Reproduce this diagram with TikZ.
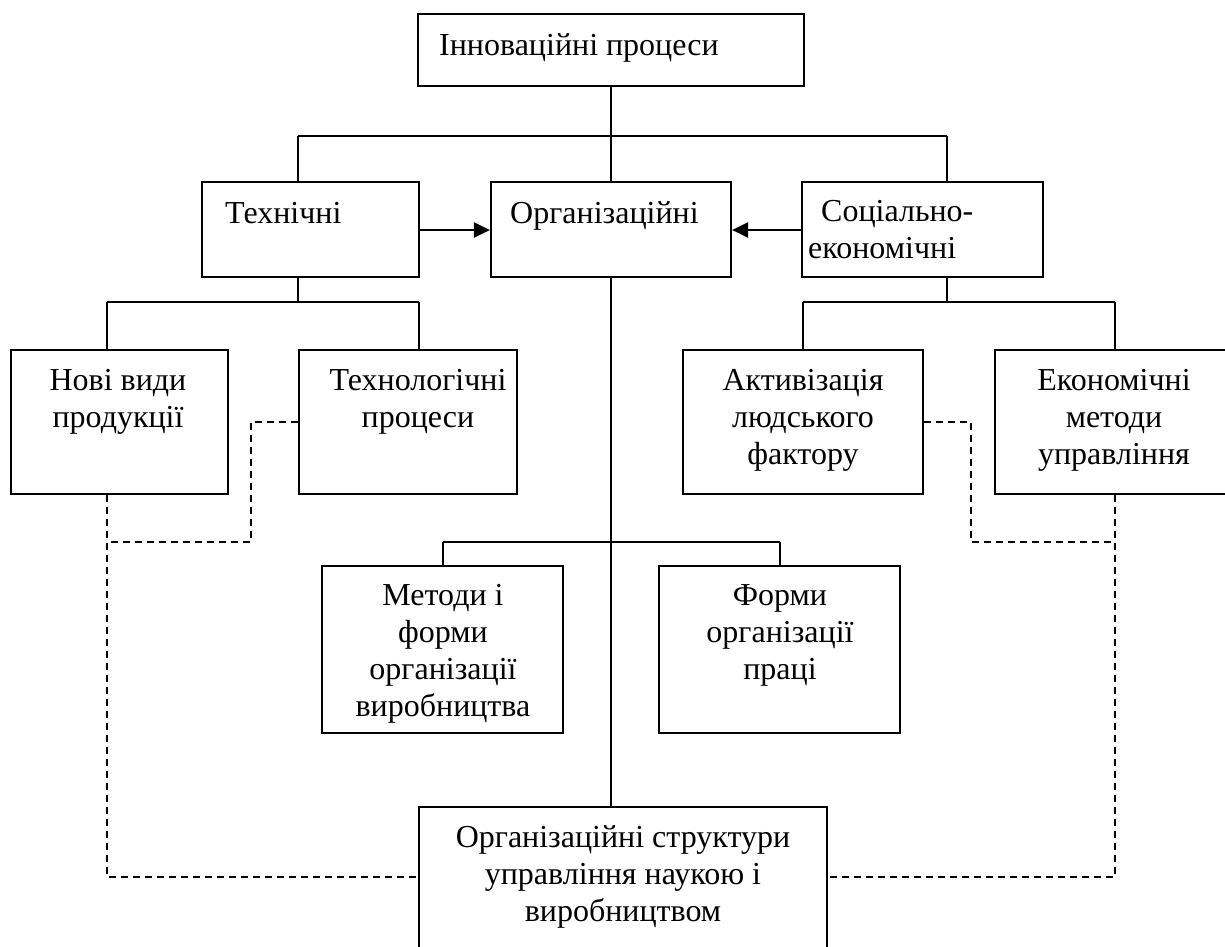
\documentclass[tikz,border=0pt]{standalone}
\usepackage{fontspec}
\setmainfont{Liberation Serif}
\usetikzlibrary{arrows.meta}
\begin{document}
\begin{tikzpicture}[x=1pt,y=-1pt,
  box/.style={draw, line width=2.2pt, inner sep=0pt},
  conn/.style={line width=2.2pt},
  dline/.style={line width=2pt, dash pattern=on 7pt off 5pt},
  arr/.style={line width=2.4pt, -{Triangle[length=16pt,width=15pt]}},
  txt/.style={font=\fontsize{32}{37}\selectfont, inner sep=0pt, align=center, anchor=base},
  ltxt/.style={font=\fontsize{32}{37}\selectfont, inner sep=0pt, align=left, anchor=base west}]
\useasboundingbox (0,0) rectangle (1225,946);
\clip (0,0) rectangle (1225,946);
% boxes
\node[box, minimum width=386, minimum height=72] (top) at (611,50) {};
\node[box, minimum width=217, minimum height=95] (tech) at (310.5,229.5) {};
\node[box, minimum width=240, minimum height=95] (org) at (611,229.5) {};
\node[box, minimum width=241, minimum height=95] (soc) at (922.5,229.5) {};
\node[box, minimum width=217, minimum height=144] (nove) at (119.5,422) {};
\node[box, minimum width=218, minimum height=144] (tproc) at (408,422) {};
\node[box, minimum width=240, minimum height=144] (activ) at (803,422) {};
\node[box, minimum width=238, minimum height=144] (econ) at (1114,422) {};
\node[box, minimum width=241, minimum height=167] (meth) at (442.5,649.5) {};
\node[box, minimum width=241, minimum height=167] (forms) at (779.5,649.5) {};
\node[box, minimum width=408, minimum height=173] (bot) at (623,893.5) {};
% texts (anchor=base is the baseline of the last line)
\node[ltxt] (ttop) at (439,55) {Інноваційні процеси};
\node[ltxt] (ttech) at (225,223) {Технічні};
\node[ltxt] (torg) at (510,223) {Організаційні};
\node[ltxt] (tsoc) at (808,258) {\hspace*{13pt}Соціально-\\економічні};
\node[txt] (tnove) at (118,427) {Нові види\\продукції};
\node[txt] (ttproc) at (418,427) {Технологічні\\процеси};
\node[txt] (tactiv) at (803,464) {Активізація\\людського\\фактору};
\node[txt] (tecon) at (1114,464) {Економічні\\методи\\управління};
\node[txt] (tmeth) at (443,716) {Методи і\\форми\\організації\\виробництва};
\node[txt] (tforms) at (780,679) {Форми\\організації\\праці};
\node[txt] (tbot) at (623,921) {Організаційні структури\\управління наукою і\\виробництвом};
% bus coordinates
\coordinate (b1l) at (298,136);
\coordinate (b1r) at (947,136);
\coordinate (b2l) at (107,302);
\coordinate (b2r) at (419,302);
\coordinate (b3l) at (803,302);
\coordinate (b3r) at (1115,302);
\coordinate (b4l) at (443,542);
\coordinate (b4r) at (780,542);
% solid connectors
\draw[conn] (top.south) -- (org.north);
\draw[conn] (b1l) -- (b1r);
\draw[conn] (b1l) -- (b1l |- tech.north);
\draw[conn] (b1r) -- (b1r |- soc.north);
\draw[conn] (b1l |- tech.south) -- (b1l |- b2l);
\draw[conn] (b2l) -- (b2r);
\draw[conn] (b2l) -- (b2l |- nove.north);
\draw[conn] (b2r) -- (b2r |- tproc.north);
\draw[conn] (b1r |- soc.south) -- (b1r |- b3l);
\draw[conn] (b3l) -- (b3r);
\draw[conn] (b3l) -- (b3l |- activ.north);
\draw[conn] (b3r) -- (b3r |- econ.north);
\draw[conn] (org.south) -- (org.south |- bot.north);
\draw[conn] (b4l) -- (b4r);
\draw[conn] (b4l) -- (b4l |- meth.north);
\draw[conn] (b4r) -- (b4r |- forms.north);
% arrows
\draw[arr] (tech.east |- 0,230) -- (org.west |- 0,230);
\draw[arr] (soc.west |- 0,230) -- (org.east |- 0,230);
% dashed connectors
\coordinate (dl) at (251,422);
\coordinate (dr) at (971,422);
\draw[dline] (tproc.west |- dl) -- (dl) -- (dl |- b4l) -- (b2l |- b4l);
\draw[dline] (b2l |- nove.south) -- (b2l |- 0,877) -- (bot.west |- 0,877);
\draw[dline] (activ.east |- dr) -- (dr) -- (dr |- b4l) -- (b3r |- b4l);
\draw[dline] (b3r |- econ.south) -- (b3r |- 0,877) -- (bot.east |- 0,877);
\end{tikzpicture}
\end{document}
